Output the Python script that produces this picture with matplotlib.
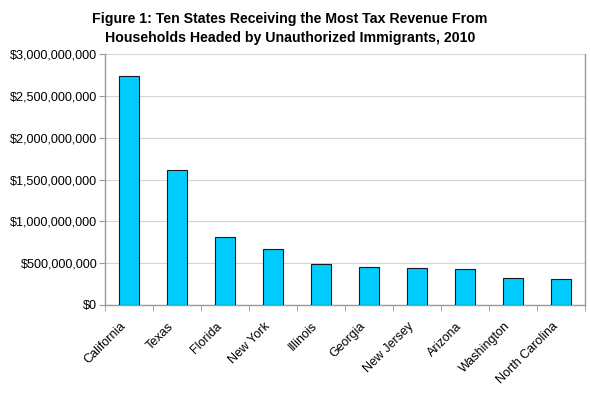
import matplotlib.pyplot as plt
import matplotlib.transforms as mtransforms
from matplotlib.ticker import FuncFormatter, FixedLocator

plt.rcParams['font.family'] = ['Liberation Sans', 'DejaVu Sans']

states = ['California', 'Texas', 'Florida', 'New York', 'Illinois',
          'Georgia', 'New Jersey', 'Arizona', 'Washington', 'North Carolina']
revenue = [2740000000, 1610000000, 810000000, 665000000, 495000000,
           452000000, 440000000, 428000000, 320000000, 308000000]

fig = plt.figure(figsize=(5.9, 3.94), dpi=100)
ax = fig.add_axes([105 / 590, 1 - 305 / 394, 480 / 590, 251 / 394])

x = range(len(states))
ax.bar(x, revenue, width=0.4, color='#00CCFF', edgecolor='#1a1a1a', linewidth=0.8, zorder=3)

ax.set_xlim(-0.5, len(states) - 0.5)
ax.set_ylim(0, 3000000000)
ax.set_yticks([i * 500000000 for i in range(7)])
ax.yaxis.set_major_formatter(FuncFormatter(lambda v, p: '${:,.0f}'.format(v)))
ax.yaxis.grid(True, color='#d4d4d4', linewidth=0.8, zorder=0)

ax.set_xticks(list(x))
ax.set_xticklabels(states, rotation=45, ha='right', va='center', rotation_mode='anchor')
ax.tick_params(axis='x', length=0, pad=14, labelsize=9)
shift = mtransforms.ScaledTranslation(-5 / 100, 0, fig.dpi_scale_trans)
for lbl in ax.get_xticklabels():
    lbl.set_transform(lbl.get_transform() + shift)
ax.xaxis.set_minor_locator(FixedLocator([i + 0.5 for i in range(-1, len(states))]))
ax.tick_params(axis='x', which='minor', length=4, color='#999999', direction='out')
ax.tick_params(axis='y', length=4, color='#999999', labelsize=9.1, pad=1.5)

for side in ['left', 'bottom', 'right']:
    ax.spines[side].set_color('#999999')
    ax.spines[side].set_linewidth(1)
ax.spines['top'].set_visible(False)

fig.text(290 / 590, 1 - 28.5 / 394,
         'Figure 1: Ten States Receiving the Most Tax Revenue From\nHouseholds Headed by Unauthorized Immigrants, 2010',
         ha='center', va='center', fontsize=10.2, fontweight='bold', linespacing=1.5)

fig.savefig('out.png', dpi=100)
